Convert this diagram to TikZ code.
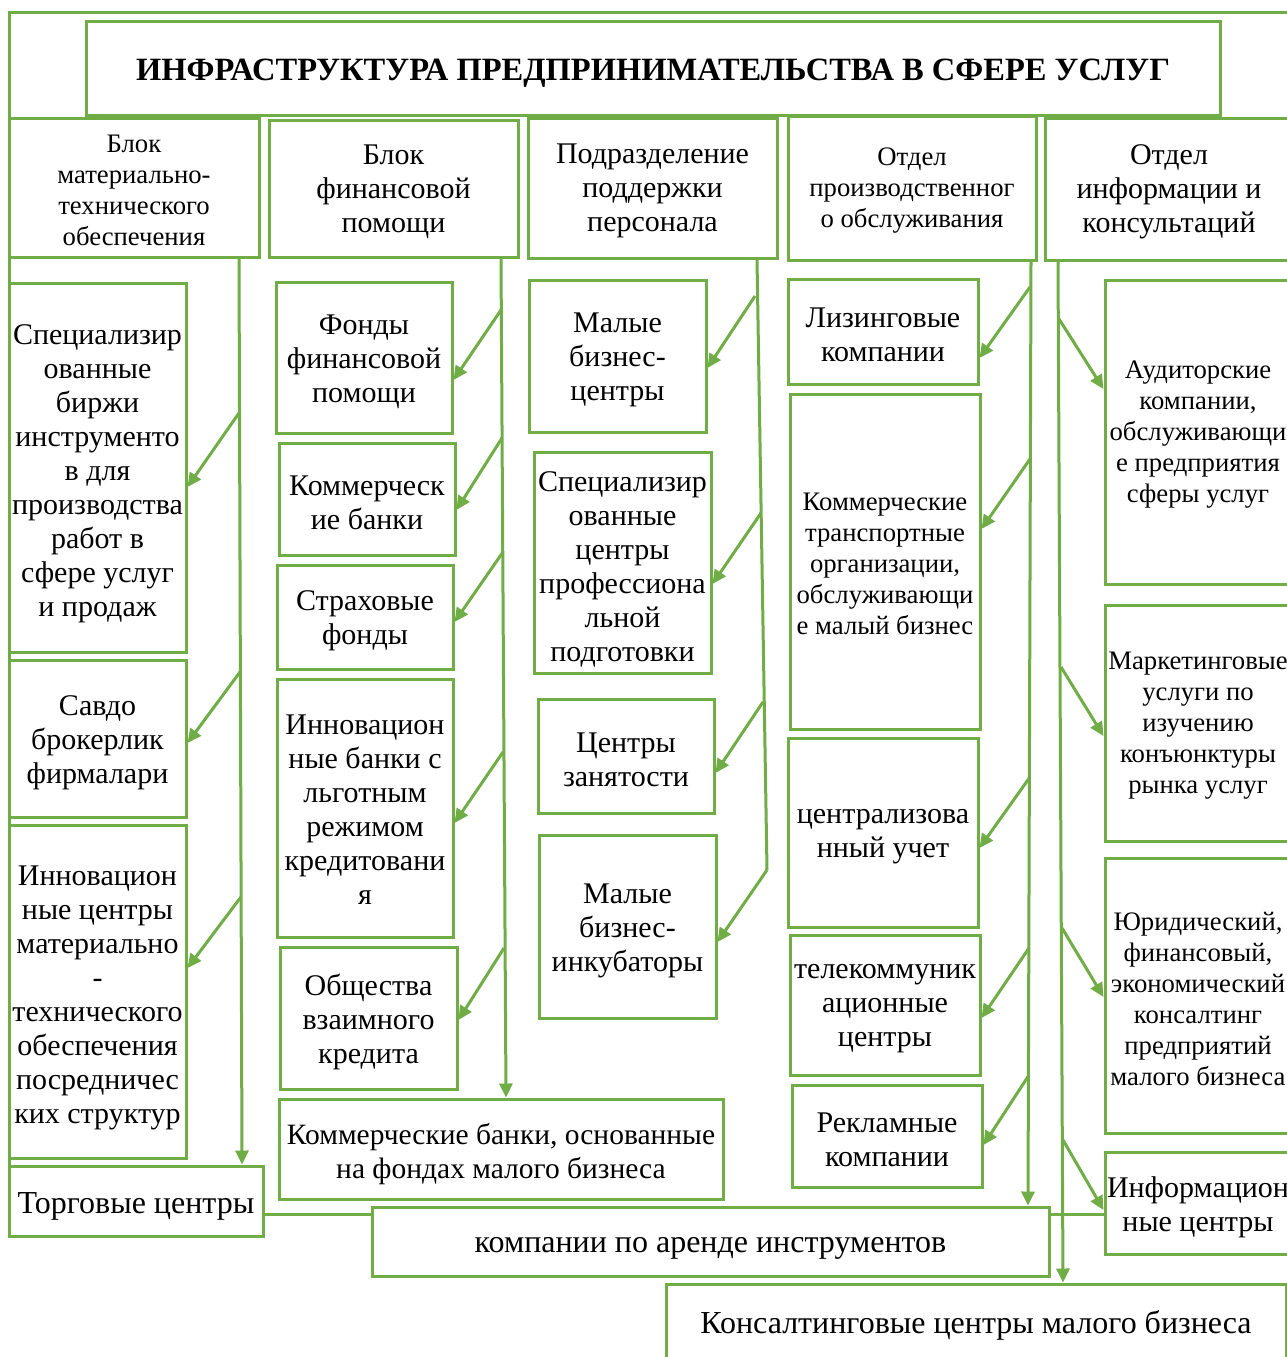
\documentclass[tikz,border=0pt]{standalone}
\usepackage{fontspec}
\setmainfont{Liberation Serif}
\usetikzlibrary{arrows.meta}
\definecolor{gr}{RGB}{112,173,71}
\newcommand\fm{\fontsize{30}{34}\selectfont}
\newcommand\fb{\fontsize{32}{36}\selectfont}
\newcommand\fw{\fontsize{29.5}{34}\selectfont}
\newcommand\fsm{\fontsize{26.7}{31}\selectfont}
\newcommand\ftt{\fontsize{32.5}{38}\selectfont\bfseries}
% \bx{name}{x1}{y1}{x2}{y2}{text}{font}{text shift}
\newcommand\bx[8]{\node[box,minimum width={#4-#2},minimum height={#5-#3},
  label={[align=center,font=#7,yshift=-#8pt,inner sep=0pt]center:{#6}}] (#1) at ({(#2+#4)/2},{(#3+#5)/2}) {};}
\tikzset{
  box/.style={draw=gr,line width=3pt,fill=white,inner sep=0pt},
  arr/.style={draw=gr,line width=3pt,-{Triangle[length=14pt,width=13pt]}},
  ln/.style={draw=gr,line width=3pt}
}
\begin{document}
\begin{tikzpicture}[x=1pt,y=-1pt]
\useasboundingbox (0,0) rectangle (1287,1357);
\clip (0,0) rectangle (1287,1357);
\fill[white] (0,0) rectangle (1287,1357);
% outer frame
\draw[ln] (9,12) rectangle (1300,1214);
% title
\bx{title}{86}{21}{1220}{115}{ИНФРАСТРУКТУРА ПРЕДПРИНИМАТЕЛЬСТВА В СФЕРЕ УСЛУГ}{\ftt}{5}
% headers
\bx{h1}{9}{118}{259}{257}{Блок\\материально-\\технического\\обеспечения}{\fsm}{3}
\bx{h2}{269}{120}{518}{257}{Блок\\финансовой\\помощи}{\fm}{3}
\bx{h3}{528}{118}{777}{258}{Подразделение\\поддержки\\персонала}{\fm}{3}
\bx{h4}{788}{116}{1036}{260}{Отдел\\производственног\\о обслуживания}{\fsm}{3}
\bx{h5}{1045}{118}{1293}{260}{Отдел\\информации и\\консультаций}{\fm}{3}
% column 1
\bx{b11}{9}{283}{186}{652}{Специализир\\ованные\\биржи\\инструменто\\в для\\производства\\работ в\\сфере услуг\\и продаж}{\fm}{6}
\bx{b12}{9}{660}{186}{817}{Савдо\\брокерлик\\фирмалари}{\fm}{4}
\bx{b13}{9}{825}{186}{1158}{Инновацион\\ные центры\\материально\\-\\технического\\обеспечения\\посредничес\\ких структур}{\fm}{6}
\bx{b14}{9}{1166}{263}{1236}{Торговые центры}{\fb}{5}
% column 2
\bx{b21}{276}{282}{452}{433}{Фонды\\финансовой\\помощи}{\fm}{4}
\bx{b22}{279}{443}{455}{555}{Коммерческ\\ие банки}{\fm}{4}
\bx{b23}{277}{565}{453}{669}{Страховые\\фонды}{\fm}{4}
\bx{b24}{277}{679}{453}{937}{Инновацион\\ные банки с\\льготным\\режимом\\кредитовани\\я}{\fm}{2}
\bx{b25}{280}{947}{457}{1089}{Общества\\взаимного\\кредита}{\fm}{4}
\bx{b26}{279}{1099}{723}{1199}{Коммерческие банки, основанные\\на фондах малого бизнеса}{\fw}{5}
% column 3
\bx{b31}{529}{280}{706}{432}{Малые\\бизнес-\\центры}{\fm}{4}
\bx{b32}{534}{452}{711}{673}{Специализир\\ованные\\центры\\профессиона\\льной\\подготовки}{\fm}{7}
\bx{b33}{538}{699}{714}{813}{Центры\\занятости}{\fm}{4}
\bx{b34}{539}{835}{716}{1018}{Малые\\бизнес-\\инкубаторы}{\fm}{4}
% column 4
\bx{b41}{788}{279}{978}{384}{Лизинговые\\компании}{\fm}{3}
\bx{b42}{790}{394}{980}{729}{Коммерческие\\транспортные\\организации,\\обслуживающи\\е малый бизнес}{\fsm}{2}
\bx{b43}{788}{738}{978}{927}{централизова\\нный учет}{\fm}{4}
\bx{b44}{790}{935}{980}{1075}{телекоммуник\\ационные\\центры}{\fm}{4}
\bx{b45}{792}{1085}{982}{1187}{Рекламные\\компании}{\fm}{4}
\bx{b46}{372}{1207}{1049}{1276}{компании по аренде инструментов}{\fb}{7}
% column 5
\bx{b51}{1105}{280}{1291}{584}{Аудиторские\\компании,\\обслуживающи\\е предприятия\\сферы услуг}{\fsm}{3}
\bx{b52}{1105}{605}{1291}{841}{Маркетинговые\\услуги по\\изучению\\конъюнктуры\\рынка услуг}{\fsm}{3}
\bx{b53}{1105}{858}{1291}{1133}{Юридический,\\финансовый,\\экономический\\консалтинг\\предприятий\\малого бизнеса}{\fsm}{3}
\bx{b54}{1105}{1152}{1291}{1254}{Информацион\\ные центры}{\fm}{4}
\bx{b55}{666}{1284}{1286}{1362}{Консалтинговые центры малого бизнеса}{\fb}{2}
% branch points
\coordinate (s11) at (239,413);
\coordinate (s12) at (240,672);
\coordinate (s13) at (241,897);
\coordinate (s21) at (501,310);
\coordinate (s22) at (502,438);
\coordinate (s23) at (503,552);
\coordinate (s24) at (503,752);
\coordinate (s25) at (504,948);
\coordinate (s31) at (755,296);
\coordinate (s32) at (761,513);
\coordinate (s33) at (763,702);
\coordinate (s34) at (767,870);
\coordinate (s41) at (1030,287);
\coordinate (s42) at (1030,459);
\coordinate (s43) at (1030,777);
\coordinate (s44) at (1029,948);
\coordinate (s45) at (1029,1075);
\coordinate (s51) at (1059,319);
\coordinate (s52) at (1061,667);
\coordinate (s53) at (1062,928);
\coordinate (s54) at (1063,1140);
% trunks
\draw[arr] (h1.south -| 239,0) -- (b14.north -| 242,0);
\draw[arr] (h2.south -| 501,0) -- (b26.north -| 506,0);
\draw[ln] (h3.south -| 757,0) -- (s34);
\draw[arr] (h4.south -| 1031,0) -- (b46.north -| 1028,0);
\draw[arr] (h5.south -| 1058,0) -- (b55.north -| 1063,0);
% branches
\draw[arr] (s11) -- (b11.east |- 0,487);
\draw[arr] (s12) -- (b12.east |- 0,743);
\draw[arr] (s13) -- (b13.east |- 0,968);
\draw[arr] (s21) -- (b21.east |- 0,380);
\draw[arr] (s22) -- (b22.east |- 0,510);
\draw[arr] (s23) -- (b23.east |- 0,622);
\draw[arr] (s24) -- (b24.east |- 0,823);
\draw[arr] (s25) -- (b25.east |- 0,1020);
\draw[arr] (s31) -- (b31.east |- 0,368);
\draw[arr] (s32) -- (b32.east |- 0,584);
\draw[arr] (s33) -- (b33.east |- 0,773);
\draw[arr] (s34) -- (b34.east |- 0,942);
\draw[arr] (s41) -- (b41.east |- 0,358);
\draw[arr] (s42) -- (b42.east |- 0,529);
\draw[arr] (s43) -- (b43.east |- 0,848);
\draw[arr] (s44) -- (b44.east |- 0,1018);
\draw[arr] (s45) -- (b45.east |- 0,1145);
\draw[arr] (s51) -- (b51.west |- 0,389);
\draw[arr] (s52) -- (b52.west |- 0,736);
\draw[arr] (s53) -- (b53.west |- 0,997);
\draw[arr] (s54) -- (b54.west |- 0,1210);
\end{tikzpicture}
\end{document}
